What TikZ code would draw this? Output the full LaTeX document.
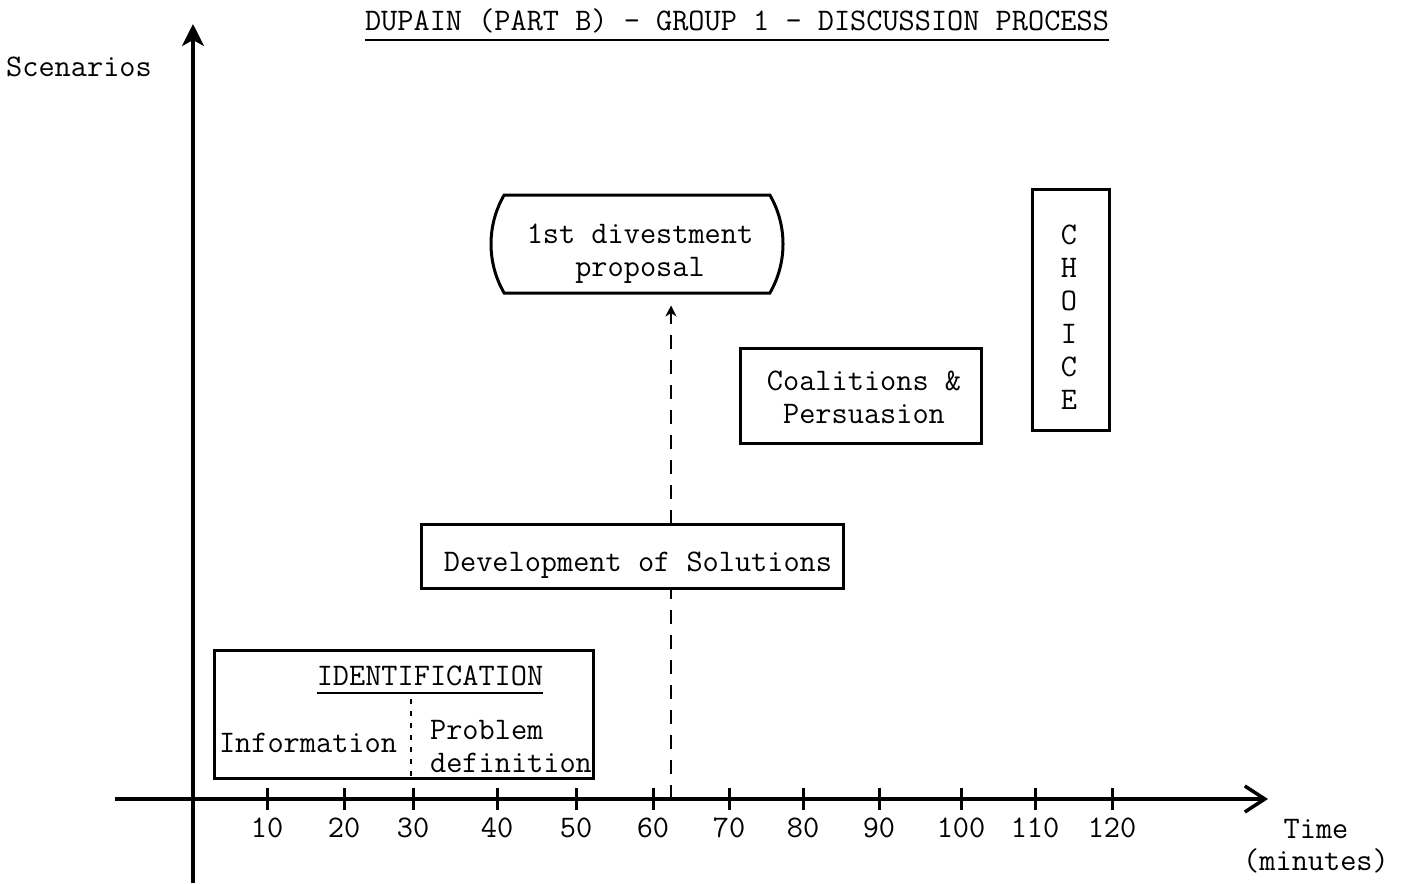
\documentclass[tikz,border=0pt]{standalone}
\usetikzlibrary{arrows.meta,shapes.misc,backgrounds}

\tikzset{
  every node/.style={font=\fontsize{31.4}{33}\selectfont\ttfamily},
  phase/.style={draw, line width=3pt, fill=white, inner sep=0pt},
  phasetext/.style={align=center, inner sep=0pt},
  axis/.style={line width=3.5pt},
  ticklbl/.style={anchor=base},
  uline/.style={line width=2pt},
}

\begin{document}
\begin{tikzpicture}[x=1pt, y=-1pt]
  \useasboundingbox (0,0) rectangle (1402,883);

  % draw title
  \node (title) [anchor=base, inner xsep=0pt] at (737,31) {DUPAIN (PART B) - GROUP 1 - DISCUSSION PROCESS};
  \draw [uline] ([yshift=-9pt]title.base west) -- ([yshift=-9pt]title.base east);

  % draw axes
  \draw [axis, -{Stealth[length=22pt, width=22pt, inset=6pt]}] (193,883) -- (193,24);
  \draw [axis, -{Straight Barb[length=20pt, width=26pt]}] (115,799) -- (1268,799);
  \foreach \x/\t in {267/10, 344/20, 413/30, 497/40, 576/50, 653/60,
                     729/70, 803/80, 879/90, 961/100, 1035/110, 1112/120} {
    \draw [line width=3pt] (\x,788) -- (\x,810);
    \node (t\t) [ticklbl] at (\x,837) {\t};
  }
  \node (scen) [anchor=base] at (79,77) {Scenarios};
  \node (tlbl) [anchor=base] at (1316,838) {Time};
  \node (tunit) [anchor=base] at (1316,870) {(minutes)};

  % draw phases
  \node (prop) [phase, rounded rectangle, rounded rectangle arc length=60,
    minimum width=292pt, minimum height=98pt] at (637,244) {};
  \node (proptext) [phasetext] at (640,254) {1st divestment\\proposal};
  \node (coal) [phase, minimum width=241pt, minimum height=95pt] at (861,396) {};
  \node (coaltext) [phasetext] at (864,397) {Coalitions \&\\Persuasion};
  \node (choice) [phase, minimum width=77pt, minimum height=241pt] at (1071,310) {};
  \node (choicetext) [phasetext] at (1069,317) {C\\H\\O\\I\\C\\E};
  \node (devel) [phase, minimum width=422pt, minimum height=64pt] at (632,556) {};
  \node (develtext) [phasetext] at (638,565) {Development of Solutions};

  % identification box
  \node (ident) [phase, minimum width=379pt, minimum height=128pt] at (404,714) {};
  \node (idhead) [anchor=base, inner xsep=0pt] at (430,685) {IDENTIFICATION};
  \draw [uline] ([yshift=-8pt]idhead.base west) -- ([yshift=-8pt]idhead.base east);
  \coordinate (divtop) at (411,699);
  \draw [line width=1.5pt, dash pattern=on 5pt off 7pt] (divtop) -- (divtop |- ident.south);
  \node (info) [anchor=base] at (308,752) {Information};
  \node (probdef) [align=left, inner sep=0pt] at (511,746) {Problem\\definition};

  % dashed arrow up to the proposal
  \coordinate (t63) at (671,799);
  \begin{scope}[on background layer]
    \draw [line width=2.5pt, dash pattern=on 14pt off 11pt, shorten >=11pt,
      -{Stealth[length=11pt, width=11pt]}] (t63) -- (t63 |- prop.south);
  \end{scope}
\end{tikzpicture}
\end{document}
